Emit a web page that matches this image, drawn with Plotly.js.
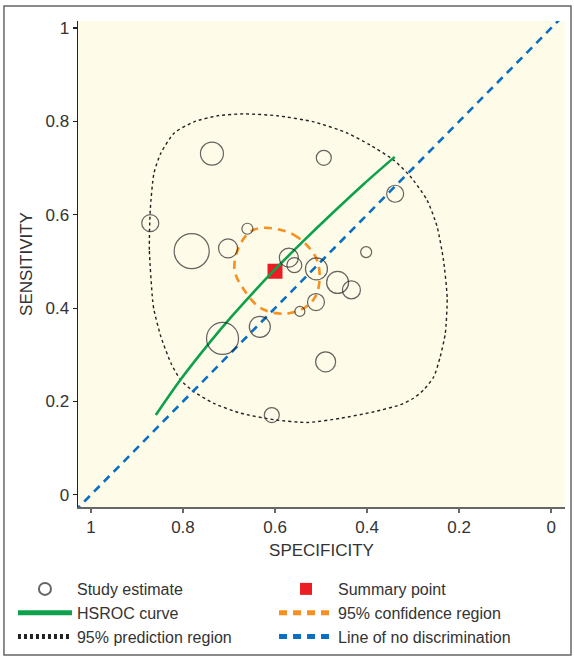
<!DOCTYPE html>
<html>
<head>
<meta charset="utf-8">
<script src="https://cdn.plot.ly/plotly-3.0.1.min.js"></script>
<style>html,body{margin:0;padding:0;background:#fff;}#chart{width:574px;height:657px;}</style>
</head>
<body>
<div id="chart"></div>
<script>
// Study estimates (specificity, sensitivity, relative weight shown as marker size)
const studySpec = [0.737, 0.494, 0.871, 0.781, 0.702, 0.660, 0.570, 0.558, 0.510, 0.402, 0.339, 0.464, 0.434, 0.511, 0.546, 0.633, 0.714, 0.490, 0.607];
const studySens = [0.731, 0.722, 0.582, 0.522, 0.528, 0.570, 0.508, 0.492, 0.484, 0.520, 0.645, 0.455, 0.439, 0.413, 0.393, 0.360, 0.335, 0.285, 0.171];
const studyWeight = [23, 15, 17, 35, 19, 11, 19, 15, 22, 11, 17, 22, 18, 17, 10, 21, 32, 20, 15];

// Summary point
const summarySpec = [0.600];
const summarySens = [0.479];

// HSROC curve
const hsrocSpec = [0.859, 0.805, 0.743, 0.696, 0.646, 0.600, 0.537, 0.479, 0.407, 0.340];
const hsrocSens = [0.171, 0.247, 0.325, 0.380, 0.435, 0.483, 0.545, 0.600, 0.666, 0.724];

// 95% confidence region
const ciSpec = [0.624, 0.559, 0.512, 0.503, 0.512, 0.537, 0.581, 0.631, 0.667, 0.688, 0.678, 0.653, 0.624];
const ciSens = [0.572, 0.557, 0.510, 0.467, 0.425, 0.400, 0.388, 0.400, 0.439, 0.482, 0.532, 0.564, 0.572];

// 95% prediction region
const prSpec = [0.866, 0.873, 0.871, 0.863, 0.848, 0.819, 0.776, 0.725, 0.667, 0.595, 0.516, 0.443, 0.393, 0.342, 0.306, 0.270, 0.248, 0.234, 0.226, 0.230, 0.241, 0.255, 0.277, 0.299, 0.328, 0.385, 0.458, 0.530, 0.602, 0.675, 0.733, 0.776, 0.805, 0.826, 0.848, 0.863, 0.866];
const prSens = [0.418, 0.525, 0.610, 0.689, 0.732, 0.775, 0.799, 0.812, 0.816, 0.812, 0.799, 0.775, 0.749, 0.717, 0.682, 0.632, 0.575, 0.503, 0.422, 0.346, 0.296, 0.253, 0.225, 0.207, 0.193, 0.178, 0.164, 0.155, 0.161, 0.175, 0.196, 0.221, 0.246, 0.282, 0.339, 0.396, 0.418];

// Line of no discrimination
const diagSpec = [1.1, -0.1];
const diagSens = [-0.1, 1.1];

const tickVals = [0, 0.2, 0.4, 0.6, 0.8, 1];
const tickText = ['0', '0.2', '0.4', '0.6', '0.8', '1'];

const FONT = '"Liberation Sans", Arial, Helvetica, sans-serif';

const traces = [
  {x: prSpec, y: prSens, mode: 'lines', name: '95% prediction region', legend: 'legend', legendrank: 3,
   line: {color: '#222', width: 1.4, dash: '3px,3px', shape: 'spline', smoothing: 0.6}},
  {x: diagSpec, y: diagSens, mode: 'lines', name: 'Line of no discrimination', legend: 'legend2', legendrank: 3,
   line: {color: '#0a6fc2', width: 2.6, dash: '8px,6px'}},
  {x: ciSpec, y: ciSens, mode: 'lines', name: '95% confidence region', legend: 'legend2', legendrank: 2,
   line: {color: '#f7901e', width: 2.6, dash: '8px,6px', shape: 'spline', smoothing: 1}},
  {x: summarySpec, y: summarySens, mode: 'markers', name: 'Summary point', legend: 'legend2', legendrank: 1,
   marker: {symbol: 'square', size: 15, color: '#ec1c24', line: {width: 0}}},
  {x: hsrocSpec, y: hsrocSens, mode: 'lines', name: 'HSROC curve', legend: 'legend', legendrank: 2,
   line: {color: '#0ea14b', width: 2.6, shape: 'spline', smoothing: 0.8}},
  {x: studySpec, y: studySens, mode: 'markers', name: 'Study estimate', legend: 'legend', legendrank: 1,
   marker: {symbol: 'circle-open', size: studyWeight, color: '#222', line: {width: 1.2, color: '#222'}}}
];

const legendBase = {
  orientation: 'h', xref: 'container', yref: 'container', xanchor: 'left', yanchor: 'top',
  entrywidth: 193, entrywidthmode: 'pixels',
  itemwidth: 54, itemsizing: 'constant', tracegroupgap: 0, traceorder: 'normal',
  font: {family: FONT, size: 16, color: '#333'}, bgcolor: 'rgba(0,0,0,0)'
};

const layout = {
  width: 574, height: 657,
  margin: {l: 78, r: 9, t: 21, b: 150},
  paper_bgcolor: '#ffffff',
  plot_bgcolor: '#fefbe9',
  font: {family: FONT, size: 16, color: '#333'},
  showlegend: true,
  xaxis: {
    range: [1.028, -0.030], tickvals: tickVals, ticktext: tickText,
    showgrid: false, zeroline: false, showline: true, linecolor: '#666', linewidth: 2,
    ticks: 'outside', ticklen: 4, tickcolor: '#666', tickwidth: 1.5,
    tickfont: {family: FONT, size: 17, color: '#333'},
    title: {text: 'SPECIFICITY', font: {family: FONT, size: 17, color: '#333'}, standoff: 8}
  },
  yaxis: {
    range: [-0.026, 1.015], tickvals: tickVals, ticktext: tickText,
    showgrid: false, zeroline: false, showline: true, linecolor: '#222', linewidth: 1.5,
    ticks: 'outside', ticklen: 4, tickcolor: '#222', tickwidth: 1.2,
    tickfont: {family: FONT, size: 17, color: '#333'},
    title: {text: 'SENSITIVITY', font: {family: FONT, size: 17, color: '#333'}, standoff: 8}
  },
  legend: Object.assign({}, legendBase, {x: 0.0226, y: 0.1294}),
  legend2: Object.assign({}, legendBase, {x: 0.4774, y: 0.1294}),
  shapes: [
    {type: 'rect', xref: 'paper', yref: 'paper', x0: -0.152, x1: 1.0123, y0: -0.3045, y1: 1.0309,
     line: {color: '#666', width: 1.5}, fillcolor: 'rgba(0,0,0,0)', layer: 'below'}
  ]
};

Plotly.newPlot('chart', traces, layout, {displayModeBar: false, staticPlot: true});
</script>
</body>
</html>
